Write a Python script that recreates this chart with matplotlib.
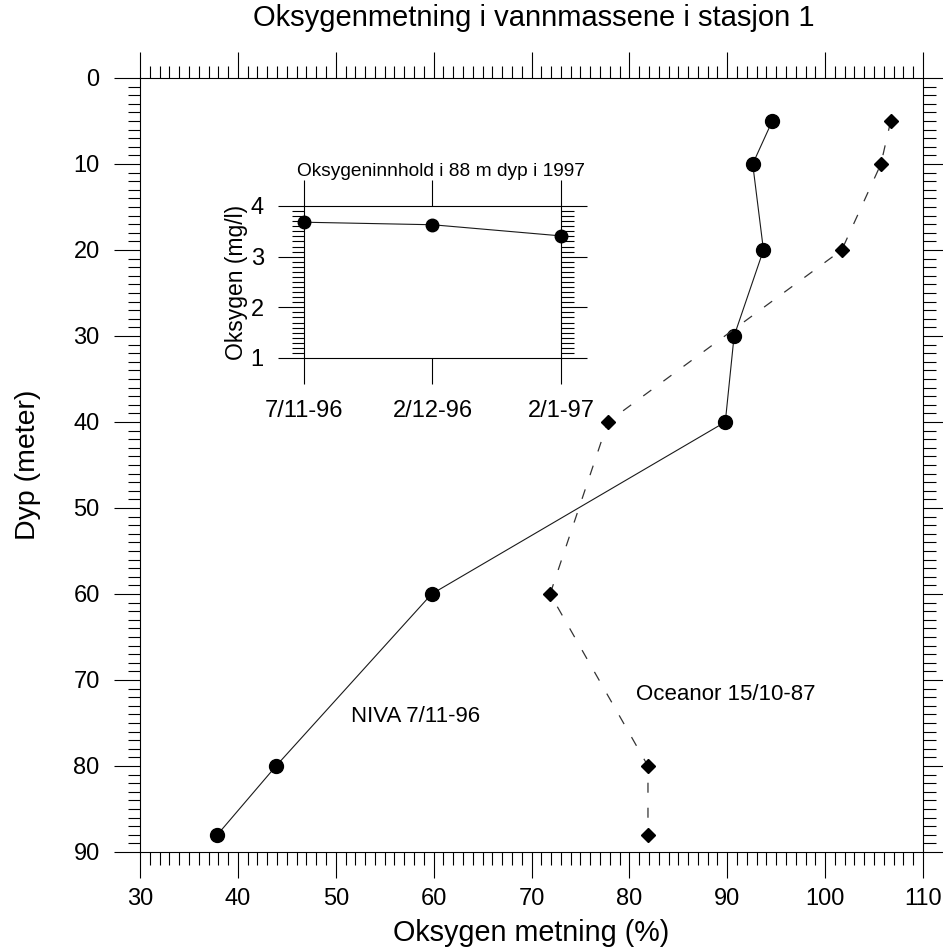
import matplotlib
matplotlib.use('Agg')
import matplotlib.pyplot as plt
from matplotlib.ticker import MultipleLocator, FixedLocator

plt.rcParams['font.family'] = ['Liberation Sans', 'DejaVu Sans']

# ---- data ----
depth_niva = [5, 10, 20, 30, 40, 60, 80, 88]
sat_niva = [94.6, 92.6, 93.7, 90.7, 89.8, 59.8, 43.9, 37.9]

depth_oceanor = [5, 10, 20, 40, 60, 80, 88]
sat_oceanor = [106.7, 105.7, 101.7, 77.8, 71.9, 81.9, 81.9]

inset_dates = ['7/11-96', '2/12-96', '2/1-97']
inset_oxygen = [3.68, 3.63, 3.41]

x_ticks = [30, 40, 50, 60, 70, 80, 90, 100, 110]
y_ticks = [0, 10, 20, 30, 40, 50, 60, 70, 80, 90]
inset_y_ticks = [1, 2, 3, 4]

W, H = 943, 948
fig = plt.figure(figsize=(W / 100, H / 100), dpi=100)

# ---- main axes ----
L, R, T, B = 140, 923, 78, 852
ax = fig.add_axes([L / W, 1 - B / H, (R - L) / W, (B - T) / H])
ax.set_xlim(30, 110)
ax.set_ylim(90, 0)

ax.plot(sat_niva, depth_niva, color='#1a1a1a', lw=0.8, marker='o', ms=10,
        markerfacecolor='black', markeredgecolor='black', clip_on=False, zorder=3)
ax.plot(sat_oceanor, depth_oceanor, color='#333333', lw=0.9, linestyle=(0, (8, 12)),
        marker='D', ms=7.5, markerfacecolor='black', markeredgecolor='black',
        clip_on=False, zorder=3)

ax.xaxis.set_major_locator(FixedLocator(x_ticks))
ax.yaxis.set_major_locator(FixedLocator(y_ticks))
ax.xaxis.set_minor_locator(MultipleLocator(1))
ax.yaxis.set_minor_locator(MultipleLocator(1))
ax.tick_params(which='both', direction='out', top=True, right=True,
               labeltop=False, labelright=False, width=0.8, color='black',
               labelsize=17)
ax.tick_params(which='major', length=19)
ax.tick_params(which='minor', length=9)
ax.tick_params(axis='x', which='major', pad=7)
ax.tick_params(axis='y', which='major', pad=10)
for s in ax.spines.values():
    s.set_linewidth(0.8)

ax.set_xlabel('Oksygen metning (%)', fontsize=20.7, va='center')
ax.xaxis.set_label_coords(0.5, (B - 933) / (B - T))
ax.set_ylabel('Dyp (meter)', fontsize=20.5, va='center')
ax.yaxis.set_label_coords((28 - L) / (R - L), 0.5)

fig.text((L + R) / 2 / W + 0.002, 1 - 18 / H, 'Oksygenmetning i vannmassene i stasjon 1',
         ha='center', va='center', fontsize=21)

ax.text(58.2, 74.2, 'NIVA 7/11-96', ha='center', va='center', fontsize=16)
ax.text(89.8, 71.7, 'Oceanor 15/10-87', ha='center', va='center', fontsize=16)

# ---- inset axes ----
iL, iR, iT, iB = 304, 561, 206, 358
ia = fig.add_axes([iL / W, 1 - iB / H, (iR - iL) / W, (iB - iT) / H])
xpos = list(range(len(inset_dates)))
ia.plot(xpos, inset_oxygen, color='#1a1a1a', lw=0.8, marker='o', ms=9,
        markerfacecolor='black', markeredgecolor='black', clip_on=False, zorder=3)
ia.set_xlim(0, len(inset_dates) - 1)
ia.set_ylim(1, 4)
ia.xaxis.set_major_locator(FixedLocator(xpos))
ia.set_xticklabels(inset_dates)
ia.yaxis.set_major_locator(FixedLocator(inset_y_ticks))
ia.yaxis.set_minor_locator(MultipleLocator(0.1))
ia.tick_params(which='both', direction='out', top=True, right=True,
               labeltop=False, labelright=False, width=0.8, color='black',
               labelsize=17)
ia.tick_params(which='major', length=19)
ia.tick_params(which='minor', length=9)
ia.tick_params(axis='x', which='major', pad=11)
ia.tick_params(axis='y', which='major', pad=10)
for s in ia.spines.values():
    s.set_linewidth(0.8)
ia.set_ylabel('Oksygen (mg/l)', fontsize=16.5, va='center')
ia.yaxis.set_label_coords((236 - iL) / (iR - iL), 0.5)
ia.text((441 - iL) / (iR - iL), (iB - 172) / (iB - iT),
        'Oksygeninnhold i 88 m dyp i 1997', transform=ia.transAxes,
        ha='center', va='center', fontsize=13.8)

fig.savefig('out.png', dpi=100)
